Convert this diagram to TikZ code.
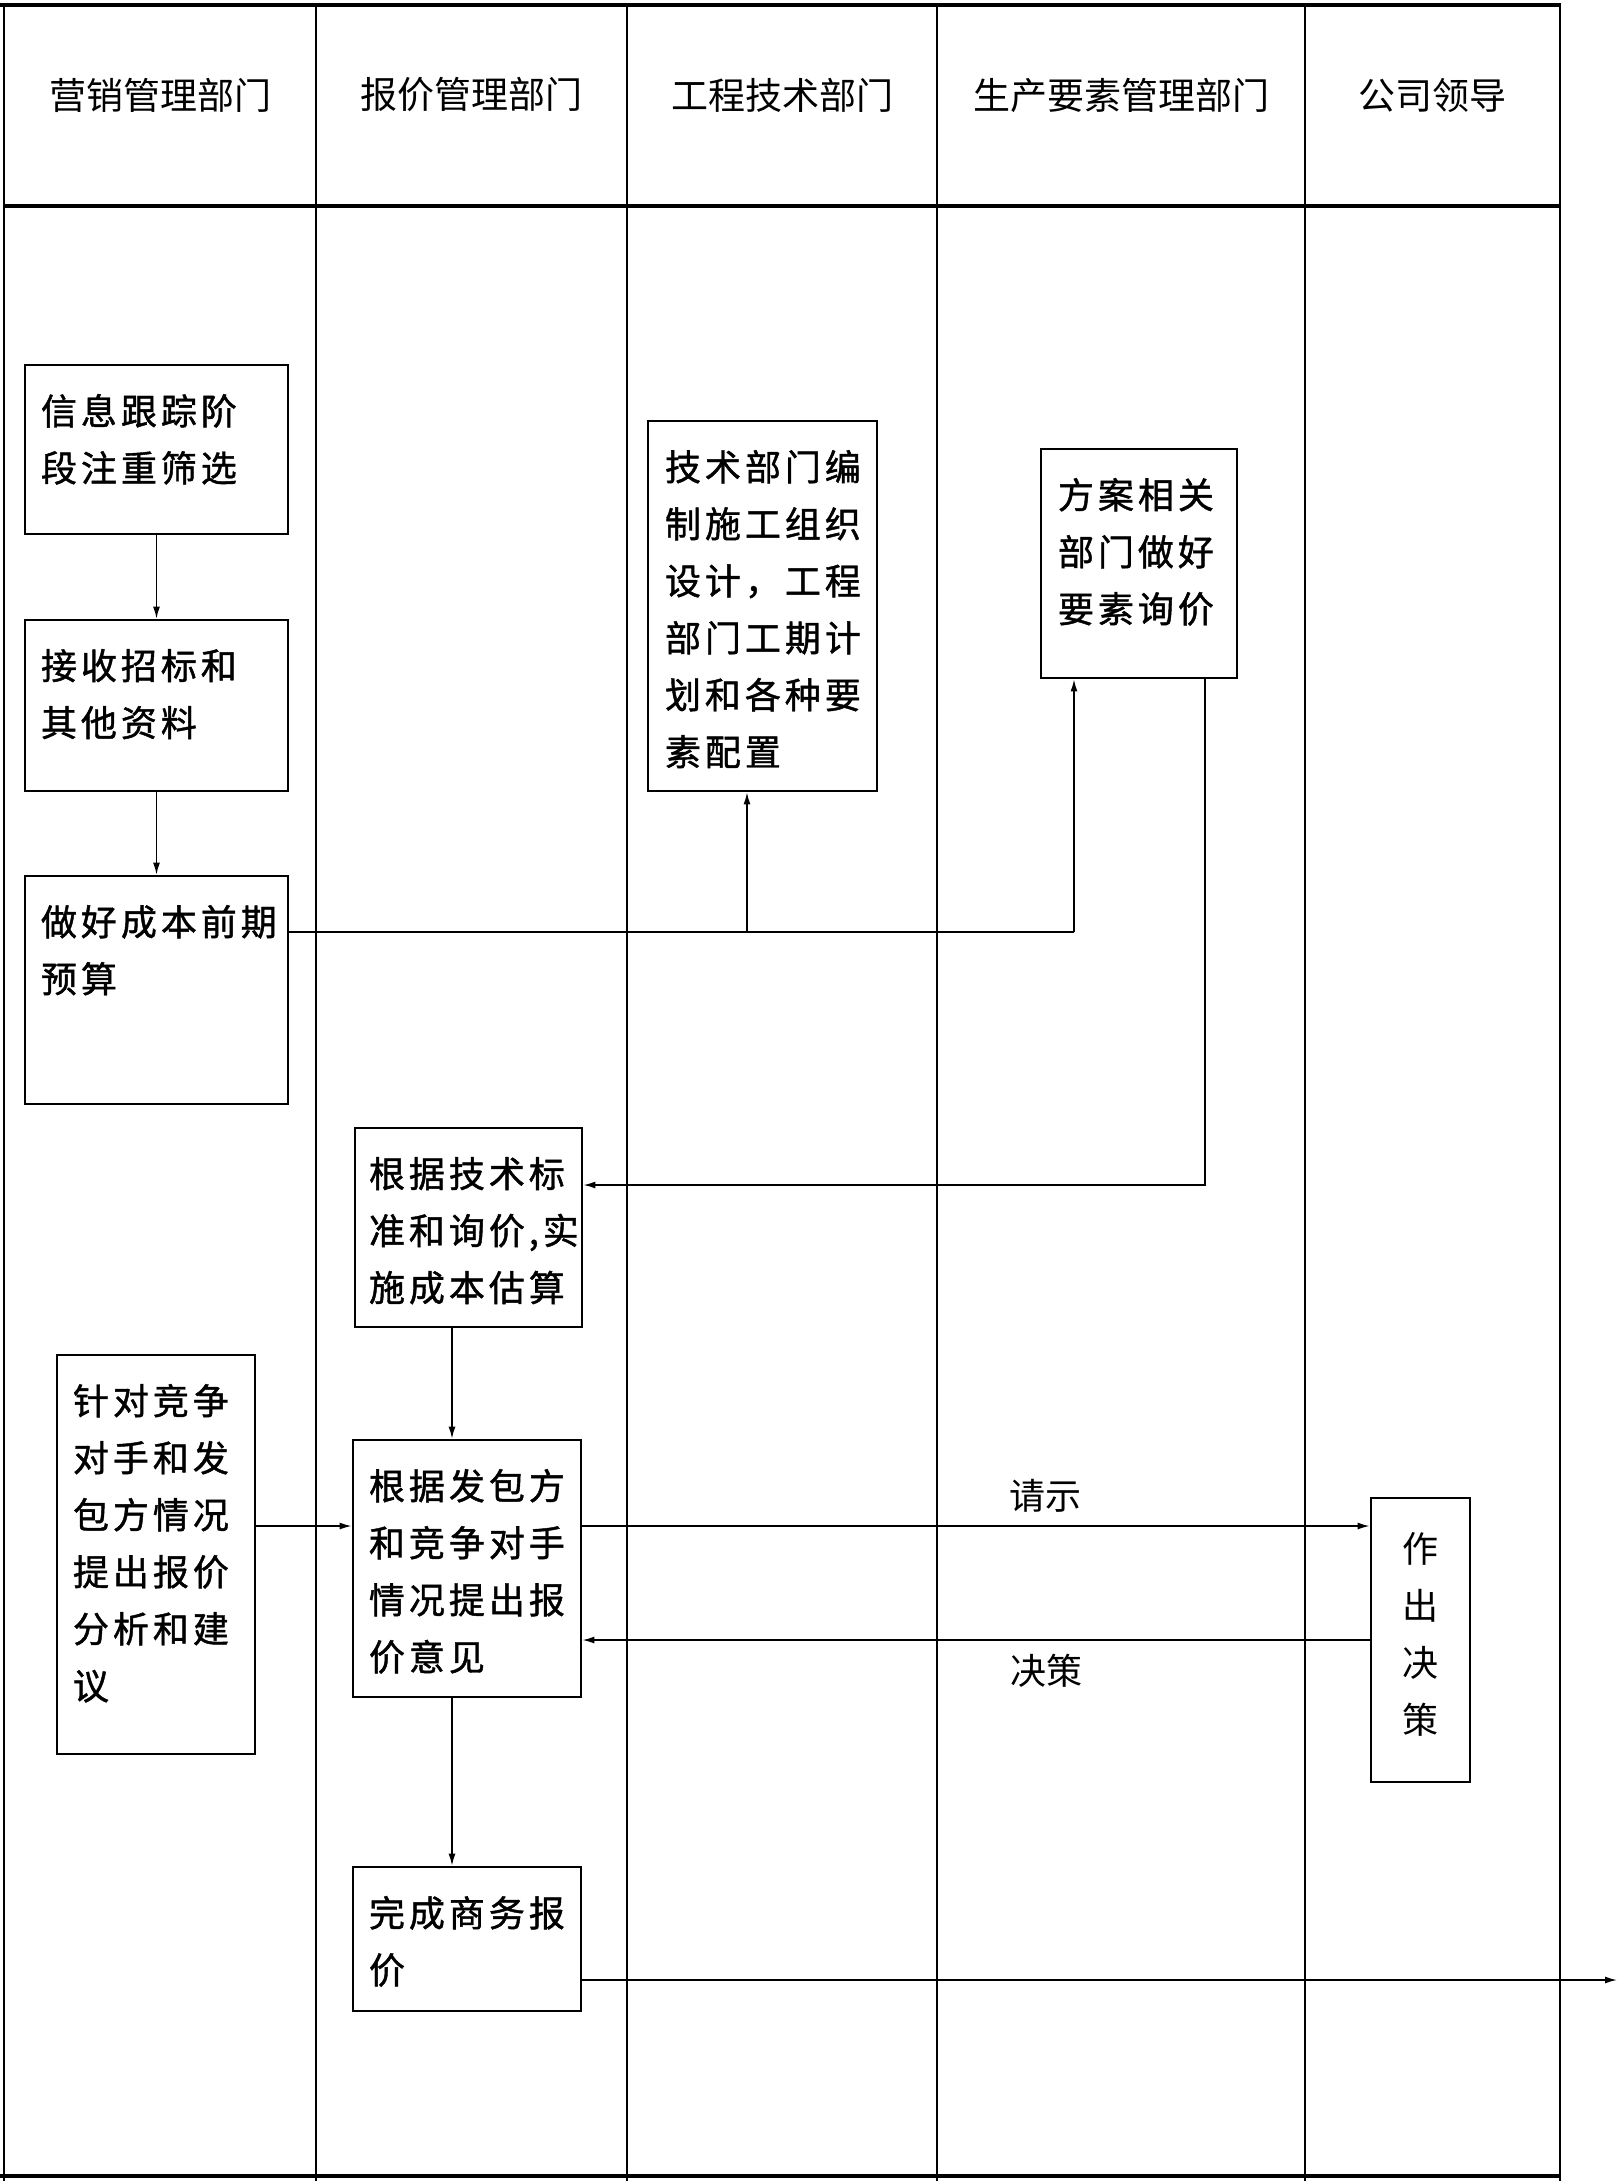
\documentclass[tikz,border=0pt]{standalone}
\usepackage{fontspec}
\newfontfamily\cjk{Noto Sans CJK SC}
\newfontfamily\cjkls[LetterSpace=11,FakeBold=1.2]{Noto Sans CJK SC}
\usetikzlibrary{arrows.meta}
\begin{document}
\begin{tikzpicture}[x=0.5pt,y=-0.5pt,
  box/.style={draw, line width=1.4pt, inner sep=0pt},
  txt/.style={anchor=north west, inner sep=0pt, align=left, font=\cjkls\fontsize{18pt}{28.5pt}\selectfont},
  vtxt/.style={inner sep=0pt, align=center, font=\cjk\fontsize{18pt}{28.5pt}\selectfont},
  head/.style={inner sep=0pt, font=\cjk\fontsize{18.5pt}{22pt}\selectfont},
  lbl/.style={inner sep=0pt, font=\cjk\fontsize{18pt}{22pt}\selectfont},
  lane/.style={line width=0.75pt},
  frameline/.style={line width=1.6pt},
  arr/.style={line width=0.75pt, -{Latex[length=6pt,width=3.5pt]}},
  conn/.style={line width=0.75pt}]
\fill[white] (0,0) rectangle (1621,2181);
\useasboundingbox (0,0) rectangle (1621,2181);

% lanes
\draw[frameline] (0,5) -- (1561,5);
\draw[frameline] (4,206) -- (1561,206);
\draw[frameline] (0,2176) -- (1561,2176);
\foreach \lx in {4,316,627,937,1305,1560} {
  \draw[lane] (\lx,5) -- (\lx,2181);
}

% headers
\node[head] (h1) at (160,95) {营销管理部门};
\node[head] (h2) at (471.5,95) {报价管理部门};
\node[head] (h3) at (782,95) {工程技术部门};
\node[head] (h4) at (1121,95) {生产要素管理部门};
\node[head] (h5) at (1432.5,95) {公司领导};

% boxes
\node[box, minimum width=131.5pt, minimum height=84.5pt] (b1) at (156.5,449.5) {};
\node[box, minimum width=131.5pt, minimum height=85.5pt] (b2) at (156.5,705.5) {};
\node[box, minimum width=131.5pt, minimum height=114pt] (b3) at (156.5,990) {};
\node[box, minimum width=114.5pt, minimum height=185pt] (b4) at (762.5,606) {};
\node[box, minimum width=98pt, minimum height=114.5pt] (b5) at (1139,563.5) {};
\node[box, minimum width=113.5pt, minimum height=99.5pt] (b6) at (468.5,1227.5) {};
\node[box, minimum width=99pt, minimum height=199.5pt] (b7) at (156,1554.5) {};
\node[box, minimum width=114pt, minimum height=128.5pt] (b8) at (467,1568.5) {};
\node[box, minimum width=49.5pt, minimum height=142pt] (b9) at (1420.5,1640) {};
\node[box, minimum width=114pt, minimum height=72pt] (b10) at (467,1939) {};

% box texts
\node[txt] (t1) at ([xshift=8.5pt,yshift=-15pt]b1.north west) {信息跟踪阶\\段注重筛选};
\node[txt] (t2) at ([xshift=8.5pt,yshift=-15pt]b2.north west) {接收招标和\\其他资料};
\node[txt] (t3) at ([xshift=8.5pt,yshift=-15pt]b3.north west) {做好成本前期\\预算};
\node[txt] (t4) at ([xshift=9pt,yshift=-15pt]b4.north west) {技术部门编\\制施工组织\\设计，工程\\部门工期计\\划和各种要\\素配置};
\node[txt] (t5) at ([xshift=9pt,yshift=-15pt]b5.north west) {方案相关\\部门做好\\要素询价};
\node[txt] (t6) at ([xshift=7.5pt,yshift=-15pt]b6.north west) {根据技术标\\准和询价,实\\施成本估算};
\node[txt] (t7) at ([xshift=8.5pt,yshift=-15pt]b7.north west) {针对竞争\\对手和发\\包方情况\\提出报价\\分析和建\\议};
\node[txt] (t8) at ([xshift=8.5pt,yshift=-15pt]b8.north west) {根据发包方\\和竞争对手\\情况提出报\\价意见};
\node[vtxt] (t9) at (1420.5,1634) {作\\出\\决\\策};
\node[txt] (t10) at ([xshift=8.5pt,yshift=-15pt]b10.north west) {完成商务报\\价};

% junction coordinates
\coordinate (j0) at (747,932);
\coordinate (j1) at (1074,932);
\coordinate (c5) at (1205,1185);
\coordinate (xa) at (452,0);
\coordinate (yq) at (0,1526);
\coordinate (yd) at (0,1640);
\coordinate (ye) at (0,1980);
\coordinate (endp) at (1617,1980);

% connectors
\draw[arr] (b1.south) -- (b2.north);
\draw[arr] (b2.south) -- (b3.north);
\draw[conn] (b3.east |- j1) -- (j1);
\draw[arr] (j1) -- (j1 |- b5.south);
\draw[arr] (j0) -- (j0 |- b4.south);
\draw[arr] (b5.south -| c5) -- (c5) -- (b6.east |- c5);
\draw[arr] (b6.south -| xa) -- (b8.north -| xa);
\draw[arr] (b7.east |- yq) -- (b8.west |- yq);
\draw[arr] (b8.east |- yq) -- (b9.west |- yq);
\draw[arr] (b9.west |- yd) -- (b8.east |- yd);
\draw[arr] (b8.south -| xa) -- (b10.north -| xa);
\draw[arr] (b10.east |- ye) -- (endp);

% labels
\node[lbl] (l1) at (1045,1496) {请示};
\node[lbl] (l2) at (1046,1671) {决策};
\end{tikzpicture}
\end{document}
